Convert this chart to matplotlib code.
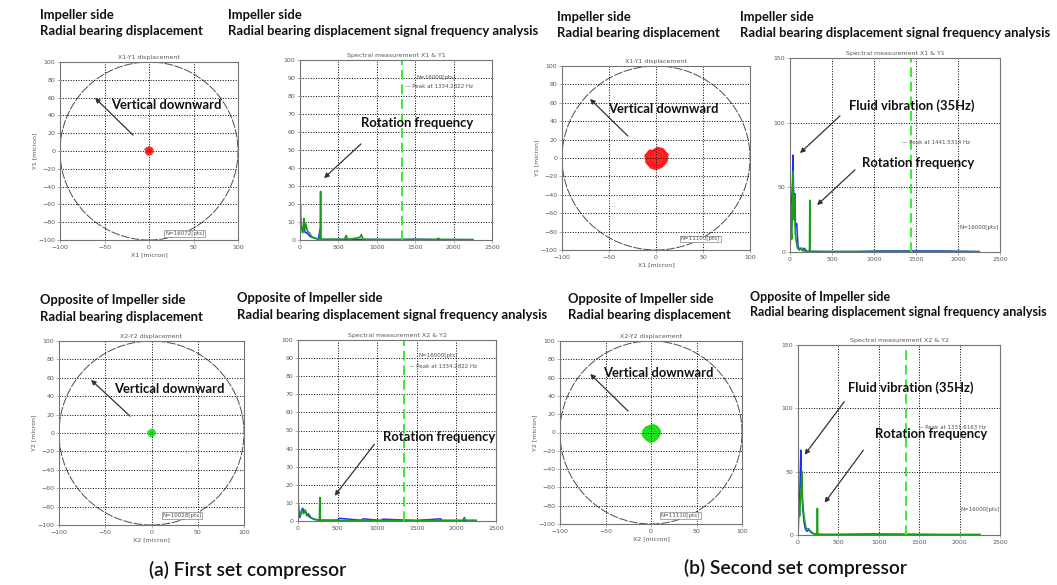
import matplotlib

matplotlib.use('Agg')
import matplotlib.pyplot as plt
from matplotlib.patches import Circle

W, H = 1057, 585
BOLD_FONT = 'Lato'
CLEARANCE = 100

# orbit traces (micron)
orb1_x = [-2, 0, 2.5, 3, 1.5, -1, -2.5, -1.5, 1, 2.5, 0.5, -2]
orb1_y = [1.5, 3, 2, -0.5, -2.5, -3, -1, 1.5, 2.5, 0, -2, 1.5]
orb3_x = [0, 6, 10, 11, 8, 3, -3, -8, -10, -8, -3, 2, 8, 13, 12, 7, 0, -6, -11, -12,
          -7, 0, 5, 9, 7, 2, -4, -7, -5, 0]
orb3_y = [10, 9, 5, -1, -7, -10, -9, -6, 0, 6, 9, 12, 10, 4, -4, -10, -13, -11, -5, 3,
          9, 7, 4, -1, -6, -8, -6, 0, 6, 10]
orb5_x = [-1.5, 0, 2, 2.5, 1, -1, -2, -1, 1, 2, 0, -1.5]
orb5_y = [1, 2.5, 1.5, -0.5, -2, -2.5, -1, 1, 2, 0, -1.5, 1]
orb7_x = [1, 6, 9, 9, 6, 1, -4, -7, -8, -6, -2, 3, 8, 11, 9, 4, -1, -6, -10, -9,
          -5, 1, 5, 7, 4, 0, -4, -4, 1]
orb7_y = [8, 7, 3, -2, -7, -9, -8, -5, 0, 5, 8, 9, 6, 1, -5, -10, -11, -8, -3, 3,
          7, 5, 2, -3, -6, -6, -3, 2, 8]

# spectra: frequency [Hz] and amplitude
p2_blue_f = [0, 5, 15, 25, 40, 55, 70, 90, 110, 130, 160, 200, 240, 262, 266, 272, 290,
             400, 800, 1200, 1500, 1800, 2250]
p2_blue_a = [3, 12, 8, 6, 5, 6, 4, 4, 3, 2, 1.5, 1, 0.5, 6, 2, 0.4, 0.3,
             0.3, 0.3, 0.2, 0.4, 0.2, 0.2]
p2_green_f = [0, 5, 10, 20, 35, 50, 60, 75, 95, 120, 150, 190, 230, 262, 268, 274, 300,
              580, 600, 620, 700, 780, 800, 820, 1000, 1780, 1800, 1820, 2250]
p2_green_a = [2, 20, 10, 6, 4, 12, 6, 9, 5, 4, 2, 1, 0.5, 0.5, 27, 0.5, 0.4,
              0.4, 2.5, 0.4, 0.8, 1.5, 3, 0.4, 0.3, 0.3, 1, 0.3, 0.2]

p4_blue_f = [0, 10, 20, 30, 36, 42, 50, 58, 65, 80, 95, 110, 130, 150, 170, 200, 260,
             400, 800, 1100, 1800, 2250]
p4_blue_a = [0, 20, 40, 55, 75, 50, 30, 45, 20, 22, 5, 2, 3, 1, 3, 0.5, 0.5,
             0.3, 0.3, 0.8, 0.8, 0.3]
p4_green_f = [0, 8, 12, 20, 28, 35, 40, 48, 55, 62, 75, 90, 110, 140, 160, 200, 232, 236,
              240, 260, 600, 1200, 2250]
p4_green_a = [0, 37, 20, 10, 30, 62, 40, 25, 44, 15, 8, 3, 1.5, 3, 1, 0.5, 0.5, 40,
              0.5, 0.4, 0.4, 0.4, 0.3]

p6_blue_f = [0, 10, 25, 45, 60, 75, 90, 110, 130, 160, 200, 260, 300, 500, 520, 800, 820,
             1050, 1070, 1500, 1800, 1820, 2250]
p6_blue_a = [1, 3, 2, 6, 7, 5, 6, 3, 4, 2, 1, 0.5, 0.5, 0.4, 1.5, 0.4, 1.2,
             0.3, 1, 0.3, 1.2, 0.3, 0.3]
p6_green_f = [0, 5, 15, 30, 50, 70, 90, 120, 150, 200, 270, 276, 282, 300, 600, 1000,
              2080, 2100, 2120, 2250]
p6_green_a = [2, 9, 4, 3, 6, 4, 6, 3, 2, 1, 0.5, 13, 0.5, 0.4, 0.3, 0.3,
              0.3, 2, 0.3, 0.3]

p8_blue_f = [0, 8, 15, 25, 35, 42, 50, 60, 75, 90, 110, 140, 170, 200, 240, 400, 900,
             1800, 2250]
p8_blue_a = [0, 25, 15, 40, 67, 40, 30, 20, 10, 5, 3, 4, 2, 1, 0.5, 0.3, 0.8, 0.3, 0.3]
p8_green_f = [0, 6, 12, 20, 30, 40, 48, 55, 65, 80, 100, 130, 160, 190, 236, 240, 244,
              300, 1000, 2250]
p8_green_a = [0, 10, 25, 15, 30, 35, 50, 30, 20, 12, 5, 5, 2, 1, 0.5, 21, 0.5,
              0.4, 0.4, 0.3]

peak_freqs = [1334.2822, 1441.5314, 1334.2822, 1331.6163]
orbit_pts = ['N=16072[pts]', 'N=11100[pts]', 'N=10028[pts]', 'N=11110[pts]']

NOTE_SIZE = 9.4

fig = plt.figure(figsize=(W / 100, H / 100), dpi=100)


def px_axes(left, top, right, bottom):
    return fig.add_axes([left / W, 1 - bottom / H, (right - left) / W, (bottom - top) / H])


def style_axes(ax, title):
    ax.grid(True, ls=':', color='k', lw=0.7)
    ax.tick_params(labelsize=4.5, labelcolor='0.35', length=2, width=0.4, color='0.5', pad=1.5)
    for s in ax.spines.values():
        s.set_color('0.45')
        s.set_linewidth(0.8)
    ax.set_title(title, fontsize=4.5, color='0.35', pad=2)


def bold_text(x, y, s, size=NOTE_SIZE, ax=None, **kw):
    target = ax if ax is not None else fig
    tr = ax.transData if ax is not None else fig.transFigure
    if ax is None:
        x, y = x / W, 1 - y / H
    target.text(x, y, s, transform=tr, fontsize=size, fontweight='bold',
                family=BOLD_FONT, color='#111111', **kw)


def arrow(ax, tail, head):
    ax.annotate('', xy=head, xytext=tail,
                arrowprops=dict(arrowstyle='-|>', color='0.2', lw=0.9, mutation_scale=7))


def orbit(box, xs, ys, color, num, pts, tail, head, txt, npos, lw):
    ax = px_axes(*box)
    ax.add_patch(Circle((0, 0), CLEARANCE, fill=False, ec='0.3', lw=0.7, ls=(0, (9, 1.5))))
    ax.fill(xs, ys, color=color, alpha=0.85, lw=0)
    ax.plot(xs, ys, color=color, lw=lw, alpha=0.8)
    ax.set_xlim(-100, 100)
    ax.set_ylim(-100, 100)
    ax.set_xticks(range(-100, 101, 50))
    ax.set_yticks(range(-100, 101, 20))
    style_axes(ax, f'X{num}-Y{num} displacement')
    ax.set_xlabel(f'X{num} [micron]', fontsize=4.5, color='0.35', labelpad=1.5)
    ax.set_ylabel(f'Y{num} [micron]', fontsize=4.5, color='0.35', labelpad=1)
    ax.text(npos[0], npos[1], pts, fontsize=4, color='0.3', ha='center', va='center',
            bbox=dict(fc='white', ec='0.4', lw=0.4, pad=0.6))
    arrow(ax, tail, head)
    bold_text(txt[0], txt[1], 'Vertical downward', ax=ax, ha='center', va='center')
    return ax


def spectrum(box, bf, ba, gf, ga, ymax, ystep, num, peak, legend_xy, npos, notes):
    ax = px_axes(*box)
    ax.plot(bf, ba, color='#1f2cff', lw=1.1)
    ax.plot(gf, ga, color='#1a9e1a', lw=1.2)
    ax.axvline(peak, color='#33ee33', lw=1.4, ls=(0, (5, 2.5)))
    ax.set_xlim(0, 2500)
    ax.set_ylim(0, ymax)
    ax.set_xticks(range(0, 2501, 500))
    ax.set_yticks(range(0, ymax + 1, ystep))
    style_axes(ax, f'Spectral measurement X{num} & Y{num}')
    if npos is not None:
        ax.text(npos[0], npos[1], 'N=16000[pts]', fontsize=4, color='0.3',
                ha='center', va='center')
    ax.text(legend_xy[0], legend_xy[1], '\u2014 Peak at %.4f Hz' % peak, fontsize=4,
            color='0.3', ha='center', va='center')
    for label, tail, head, txt in notes:
        arrow(ax, tail, head)
        bold_text(txt[0], txt[1], label, ax=ax, ha='center', va='center')
    return ax


# top row: impeller side
orbit((60, 62, 238, 240), orb1_x, orb1_y, 'red', 1, orbit_pts[0],
      (-15.7, 15.7), (-62.9, 61.8), (20, 51.7), (40, -93), 3)
spectrum((300, 60, 492, 240), p2_blue_f, p2_blue_a, p2_green_f, p2_green_a, 100, 10, 1,
         peak_freqs[0], (1810, 85), (1770, 90),
         [('Rotation frequency', (820, 54.4), (286, 33.3), (1523, 65))])
orbit((562, 66, 750, 250), orb3_x, orb3_y, 'red', 1, orbit_pts[1],
      (-27.7, 21.7), (-72.3, 66.3), (7.4, 53.3), (47, -88), 0.5)
spectrum((790, 58, 1000, 252), p4_blue_f, p4_blue_a, p4_green_f, p4_green_a, 150, 50, 1,
         peak_freqs[1], (1738, 85), None,
         [('Fluid vibration (35Hz)', (619, 106.7), (95, 75), (1452, 113)),
          ('Rotation frequency', (798, 65), (298, 34.8), (1524, 68.8))])
fig.axes[-1].text(2480, 19, 'N=16000[pts]', fontsize=4, color='0.3', ha='right', va='center')

# bottom row: opposite of impeller side
orbit((59, 341, 244, 525), orb5_x, orb5_y, '#00dd00', 2, orbit_pts[2],
      (-21, 16.3), (-67.6, 59.8), (19, 47.8), (33, -90), 3)
spectrum((298, 340, 496, 521), p6_blue_f, p6_blue_a, p6_green_f, p6_green_a, 100, 10, 2,
         peak_freqs[2], (1831, 85.6), (1768, 91.7),
         [('Rotation frequency', (985, 43.6), (442, 12.7), (1780, 46.4))])
orbit((560, 341, 742, 524), orb7_x, orb7_y, '#00dd00', 2, orbit_pts[3],
      (-23, 21.3), (-69, 66.1), (7.7, 65), (32, -90.6), 0.5)
spectrum((798, 345, 1000, 535), p8_blue_f, p8_blue_a, p8_green_f, p8_green_a, 150, 50, 2,
         peak_freqs[3], (1906, 85), None,
         [('Fluid vibration (35Hz)', (594, 107), (62, 61.6), (1398, 116)),
          ('Rotation frequency', (829, 68.7), (309, 23.7), (1646, 79.7))])
fig.axes[-1].text(2490, 20, 'N=16000[pts]', fontsize=4, color='0.3', ha='right', va='center')

# panel headings: (x, line1 y, line2 y, line1, line2, size)
head_disp = 'Radial bearing displacement'
head_freq = 'Radial bearing displacement signal frequency analysis'
for x, y1, y2, first, second, size in [
        (40, 15, 31, 'Impeller side', head_disp, NOTE_SIZE),
        (228, 15, 31, 'Impeller side', head_freq, NOTE_SIZE),
        (557, 17, 33, 'Impeller side', head_disp, NOTE_SIZE),
        (740, 17, 33, 'Impeller side', head_freq, NOTE_SIZE),
        (40, 300, 317, 'Opposite of Impeller side', head_disp, NOTE_SIZE),
        (237, 298, 315, 'Opposite of Impeller side', head_freq, NOTE_SIZE),
        (568, 299, 315, 'Opposite of Impeller side', head_disp, NOTE_SIZE),
        (750, 297, 312, 'Opposite of Impeller side', head_freq, 9.0)]:
    bold_text(x, y1, first, size=size, va='center')
    bold_text(x, y2, second, size=size, va='center')

fig.text(248 / W, 1 - 570 / H, '(a) First set compressor', fontsize=13.9, family=BOLD_FONT,
         fontweight='semibold', ha='center', va='center', color='#111111')
fig.text(795 / W, 1 - 568 / H, '(b) Second set compressor', fontsize=13.9, family=BOLD_FONT,
         fontweight='semibold', ha='center', va='center', color='#111111')

fig.savefig('out.png', dpi=100)
plt.close(fig)
